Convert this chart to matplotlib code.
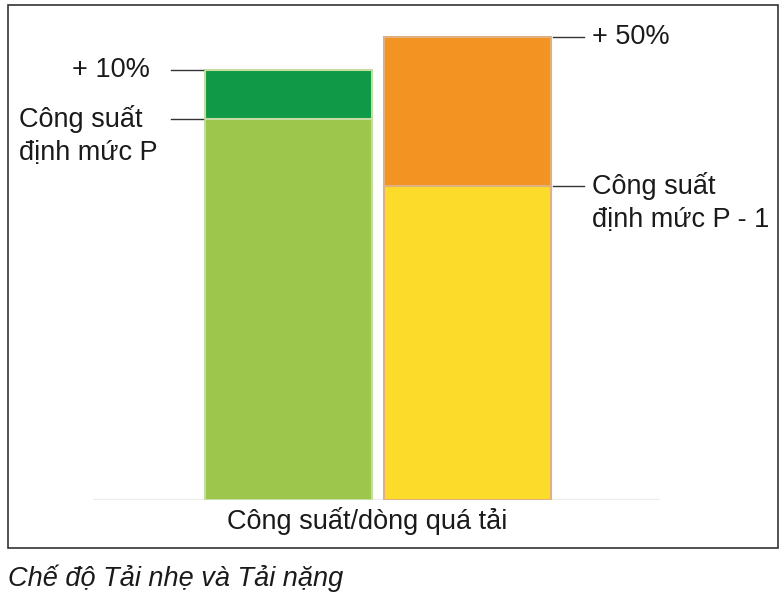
import matplotlib.pyplot as plt
from matplotlib.patches import Rectangle

plt.rcParams['font.family'] = ['Liberation Sans', 'DejaVu Sans']

modes = ['Tải nhẹ', 'Tải nặng']
base = [100, 82.4]      # rated power (P, P - 1)
extra = [12.9, 39.1]    # overload on top (+10%, +50%)
base_colors = ['#9DC74C', '#FDDB2B']
extra_colors = ['#109A47', '#F39422']
edge_colors = ['#C5DDA0', '#E0B080']
xlabel = 'Công suất/dòng quá tải'
caption = 'Chế độ Tải nhẹ và Tải nặng'

W, H = 784, 596
fig = plt.figure(figsize=(W / 100, H / 100), dpi=100)
ax = fig.add_axes([93 / W, (H - 500) / H, 567 / W, 480 / H])

x = [0, 1]
width = 0.93
for i in range(2):
    ax.bar(x[i], base[i], width, color=base_colors[i], edgecolor=edge_colors[i], linewidth=1.5, zorder=2)
    ax.bar(x[i], extra[i], width, bottom=base[i], color=extra_colors[i], edgecolor=edge_colors[i], linewidth=1.5, zorder=2)

ax.set_xlim(-1.089, 2.07)
ax.set_ylim(0, 126)
ax.axhline(0, color='#EEEEEE', lw=2.5, zorder=1)
for s in ax.spines.values():
    s.set_visible(False)
ax.set_xticks([])
ax.set_yticks([])

txt = '#1a1a1a'
fs = 19.5
dy = -34 * 0.72  # second line offset, points


def label(xv, yv, lines, ha):
    for k, s in enumerate(lines):
        ax.annotate(s, xy=(xv, yv), xytext=(0, k * dy), textcoords='offset points',
                    ha=ha, va='center', fontsize=fs, color=txt, annotation_clip=False)


# left bar callouts
le = x[0] - width / 2
for yv in [base[0] + extra[0], base[0]]:
    ax.plot([le - 0.19, le - 0.01], [yv, yv], color='#333333', lw=1, clip_on=False)
label(-0.77, base[0] + extra[0], ['+ 10%'], 'right')
label(-1.50, base[0], ['Công suất', 'định mức P'], 'left')
# right bar callouts
re = x[1] + width / 2
for yv in [base[1] + extra[1], base[1]]:
    ax.plot([re + 0.01, re + 0.18], [yv, yv], color='#333333', lw=1, clip_on=False)
label(1.69, base[1] + extra[1], ['+ 50%'], 'left')
label(1.69, base[1], ['Công suất', 'định mức P - 1'], 'left')

fig.text(367 / W, 1 - 521 / H, xlabel, ha='center', va='center', fontsize=fs, color=txt)
fig.text(8 / W, 1 - 578 / H, caption, ha='left', va='center', fontsize=fs, style='italic', color=txt)

fig.add_artist(Rectangle((8 / W, 1 - 548 / H), 770 / W, 543 / H, transform=fig.transFigure,
                         fill=False, edgecolor='#333333', lw=1.2))

fig.savefig('out.png', dpi=100)
